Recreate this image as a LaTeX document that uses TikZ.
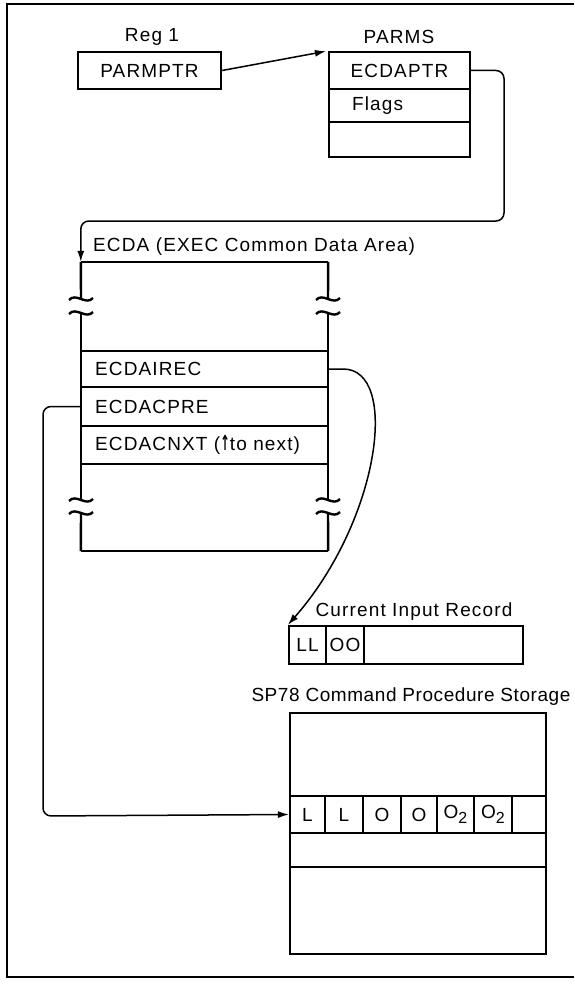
\documentclass[tikz,border=0pt]{standalone}
\usepackage{fontspec}
\setmainfont[LetterSpace=6]{Liberation Sans}
\newfontfamily\tightfont[LetterSpace=3]{Liberation Sans}
\newfontfamily\arrowfont{DejaVu Sans}
\usetikzlibrary{arrows.meta}
\newcommand\brkmark[2]{%
  \draw[bord] ({#1-12},{#2+1}) .. controls ({#1-5},{#2-7}) and ({#1+5},{#2+7}) .. ({#1+12},{#2-1});}
\begin{document}
\begin{tikzpicture}[x=1pt,y=-1pt,
  txt/.style={font=\fontsize{19}{22}\selectfont, inner sep=0pt},
  cell/.style={draw, line width=2.2pt, inner sep=0pt, font=\fontsize{19}{22}\selectfont},
  blank/.style={inner sep=0pt},
  conn/.style={line width=1.5pt, -{Latex[length=11pt,width=7pt]}},
  bord/.style={line width=2.4pt}
]
\useasboundingbox (0,0) rectangle (574,987);
% frame
\draw[line width=2pt] (574,4) -- (7,4) -- (7,977) -- (574,977);

% Reg 1 / PARMPTR
\node[txt] (reg) at (152,37) {Reg 1};
\node[cell, minimum width=143pt, minimum height=37pt] (parmptr) at (149.5,70.5) {PARMPTR};

% PARMS
\node[txt] (parmslbl) at (399,37) {PARMS};
\node[cell, minimum width=141pt, minimum height=37pt] (ecdaptr) at (399.5,70.5) {ECDAPTR};
\node[cell, minimum width=141pt, minimum height=33pt] (flags) at (399.5,105.5) {};
\node[txt, anchor=west] (flagstxt) at ([xshift=24pt]flags.west) {Flags};
\node[cell, minimum width=141pt, minimum height=35pt] (pempty) at (399.5,139.5) {};

\draw[conn, shorten >=2pt] (parmptr.east) -- (ecdaptr.north west);

% ECDA
\node[txt, anchor=west] (ecdalbl) at (93,247) {ECDA (EXEC Common Data Area)};
\node[blank, minimum width=247pt, minimum height=289pt] (ecda) at (204.5,406.5) {};
\draw[bord] (ecda.north west) -- (ecda.north east);
\draw[bord] (ecda.south west) -- (ecda.south east);
\draw[bord] (ecda.north west) -- (81,299);
\draw[bord] (81,313) -- (81,500);
\draw[bord] (81,513) -- (ecda.south west);
\draw[bord] (ecda.north east) -- (328,299);
\draw[bord] (328,313) -- (328,500);
\draw[bord] (328,513) -- (ecda.south east);
\brkmark{81}{299}\brkmark{81}{313}\brkmark{81}{500}\brkmark{81}{513}
\brkmark{328}{299}\brkmark{328}{313}\brkmark{328}{500}\brkmark{328}{513}

\node[cell, minimum width=247pt, minimum height=36pt] (irec) at (204.5,369) {};
\node[cell, minimum width=247pt, minimum height=39pt] (cpre) at (204.5,406.5) {};
\node[cell, minimum width=247pt, minimum height=38pt] (cnxt) at (204.5,445) {};
\node[txt, anchor=west] (irectxt) at ([xshift=15pt]irec.west) {ECDAIREC};
\node[txt, anchor=west] (cpretxt) at ([xshift=15pt]cpre.west) {ECDACPRE};
\node[txt, anchor=west] (cnxttxt) at ([xshift=15pt]cnxt.west) {ECDACNXT ({\arrowfont\bfseries\scalebox{0.6}[1.1]{↑}}to next)};

% connector PARMS -> ECDA
\coordinate (rb) at (504,221);
\draw[conn, rounded corners=8pt] (ecdaptr.east) -| (rb) -| (ecda.north west);

% Current Input Record
\node[txt] (cirlbl) at (414,612) {Current Input Record};
\node[cell, minimum width=37pt, minimum height=38pt] (cLL) at (307.5,645) {LL};
\node[cell, minimum width=38pt, minimum height=38pt] (cOO) at (345,645) {OO};
\node[cell, minimum width=159pt, minimum height=38pt] (crest) at (443.5,645) {};

\draw[conn] (irec.east) -- ++(14,0) .. controls (400,369) and (380,520) .. (cLL.north west);

% SP78 storage
\node[txt, font=\tightfont\fontsize{19}{22}\selectfont] (splbl) at (411,697) {SP78 Command Procedure Storage};
\node[cell, line width=2.4pt, minimum width=256pt, minimum height=241pt] (stor) at (418,833.5) {};
\node[cell, minimum width=35pt, minimum height=37pt] (s1) at (307.5,814.5) {L};
\node[cell, minimum width=38pt, minimum height=37pt] (s2) at (344,814.5) {L};
\node[cell, minimum width=38pt, minimum height=37pt] (s3) at (382,814.5) {O};
\node[cell, minimum width=36pt, minimum height=37pt] (s4) at (419,814.5) {O};
\node[cell, minimum width=37pt, minimum height=37pt] (s5) at (455.5,814.5) {O\raisebox{-5pt}{\fontsize{16}{16}\selectfont 2}};
\node[cell, minimum width=38pt, minimum height=37pt] (s6) at (493,814.5) {O\raisebox{-5pt}{\fontsize{16}{16}\selectfont 2}};
\node[cell, minimum width=34pt, minimum height=37pt] (s7) at (529,814.5) {};
\node[cell, minimum width=256pt, minimum height=34pt] (srow) at (418,850) {};

\coordinate (lb) at (43,816);
\draw[conn, rounded corners=8pt] (cpre.west) -| (lb) -- (s1.west);
\end{tikzpicture}
\end{document}
